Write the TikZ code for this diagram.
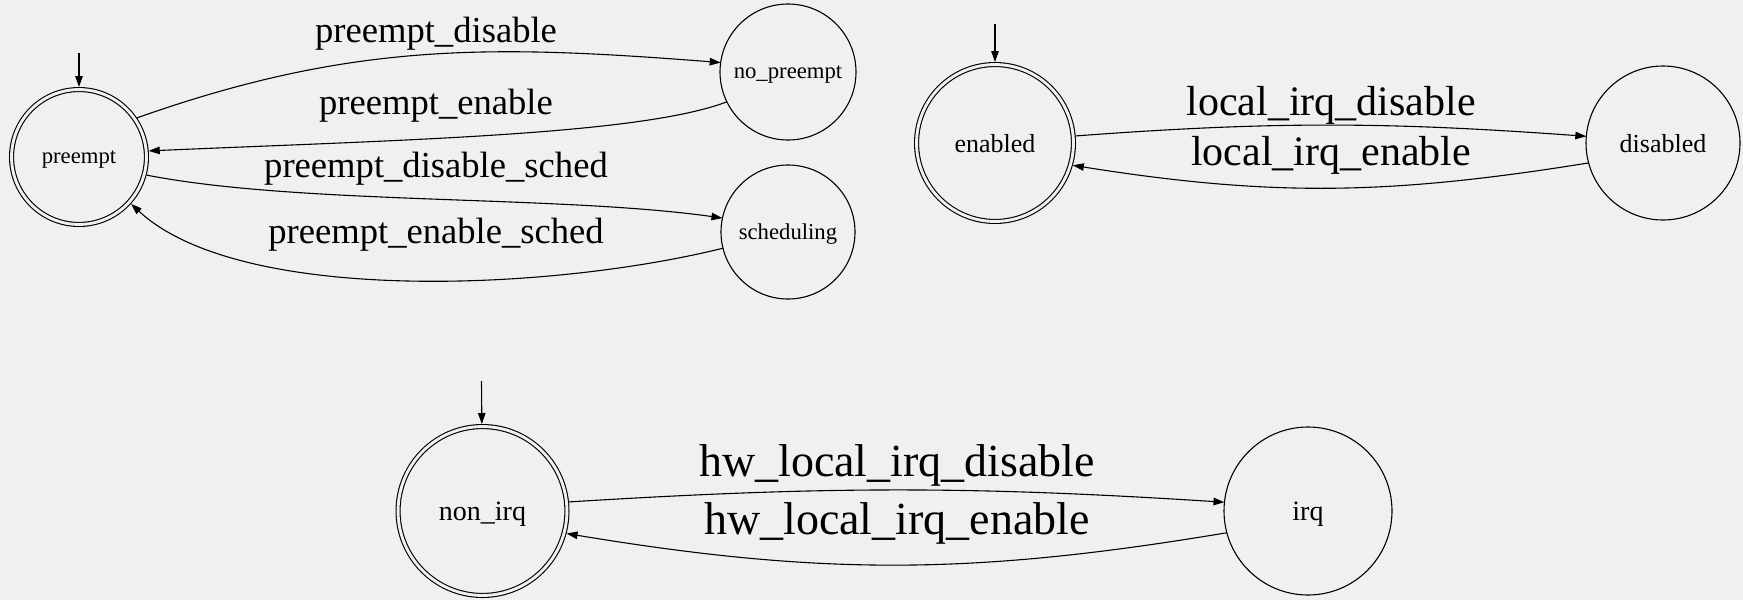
\documentclass[tikz,border=0pt]{standalone}
\usepackage{fontspec}
\setmainfont{Liberation Serif}
\usetikzlibrary{arrows.meta}
\definecolor{bgc}{RGB}{240,240,240}
\tikzset{
	every path/.style={line width=1.1pt},
	st/.style={
		draw,
		circle,
		inner sep=0pt,
		outer sep=0pt,
		text depth=0pt,
	},
	acc/.style={
		st,
		double=bgc,
		double distance=2.9pt,
		outer sep=2.55pt,
	},
	tr/.style={
		-{Triangle[length=11pt,width=7.5pt]}
	},
	lbl/.style={inner sep=0pt, text depth=0pt},
}

\begin{document}
\begin{tikzpicture}[x=1pt, y=-1pt]
	\fill[bgc] (0,0) rectangle (1743,600);
	\useasboundingbox (0,0) rectangle (1743,600);

	% preempt
	\node[acc, minimum size=134.9pt, font=\fontsize{22.7pt}{25pt}\selectfont] (preempt) at (79,157) {preempt};
	\node[st, minimum size=136pt, font=\fontsize{22.7pt}{25pt}\selectfont] (no_preempt) at (788,72) {no\_preempt};
	\node[st, minimum size=134pt, font=\fontsize{22.7pt}{25pt}\selectfont] (scheduling) at (788,232) {scheduling};
	\coordinate (preempt_init) at (79,53);

	\draw[tr] (preempt_init) -- (preempt);
	\draw[tr] (preempt.34) .. controls (354,41) and (494,45) .. (no_preempt.172.5);
	\draw[tr] (no_preempt.206) .. controls (640,135) and (400,140) .. (preempt.5);
	\draw[tr] (preempt.-15) .. controls (300,205) and (560,195) .. (scheduling.168);
	\draw[tr] (scheduling.194) .. controls (550,291) and (240,305) .. (preempt.-42);

	\begin{scope}[every node/.style={lbl, font=\fontsize{36.6pt}{40pt}\selectfont}]
		\node (pd) at (436,30) {preempt\_disable};
		\node (pe) at (436,102) {preempt\_enable};
		\node (pds) at (436,164.5) {preempt\_disable\_sched};
		\node (pes) at (436,231) {preempt\_enable\_sched};
	\end{scope}

	% irq
	\node[acc, minimum size=156.9pt, font=\fontsize{26pt}{29pt}\selectfont] (enabled) at (995,143) {enabled};
	\node[st, minimum size=154pt, font=\fontsize{26pt}{29pt}\selectfont] (disabled) at (1663,143) {disabled};
	\coordinate (enabled_init) at (995,24);

	\draw[tr] (enabled_init) -- (enabled);
	\draw[tr] (enabled.5.6) .. controls (1275,121) and (1389,122) .. (disabled.175);
	\draw[tr] (disabled.195) .. controls (1389,195) and (1272,197) .. (enabled.-16);

	\begin{scope}[every node/.style={lbl, font=\fontsize{42pt}{46pt}\selectfont}]
		\node (lid) at (1331,101) {local\_irq\_disable};
		\node (lie) at (1331,151) {local\_irq\_enable};
	\end{scope}

	% hw irq
	\node[acc, minimum size=168.9pt, font=\fontsize{28pt}{31pt}\selectfont] (non_irq) at (482.5,511) {non\_irq};
	\node[st, minimum size=168pt, font=\fontsize{28pt}{31pt}\selectfont] (irq) at (1308,511) {irq};
	\coordinate (non_irq_init) at (481.5,381);

	\draw[tr] (non_irq_init) -- (non_irq);
	\draw[tr] (non_irq.6) .. controls (826,486) and (971,486) .. (irq.174);
	\draw[tr] (irq.195) .. controls (974,575) and (823,576) .. (non_irq.-15);

	\begin{scope}[every node/.style={lbl, font=\fontsize{46pt}{50pt}\selectfont}]
		\node (hid) at (897,461) {hw\_local\_irq\_disable};
		\node (hie) at (897,519) {hw\_local\_irq\_enable};
	\end{scope}

\end{tikzpicture}
\end{document}
